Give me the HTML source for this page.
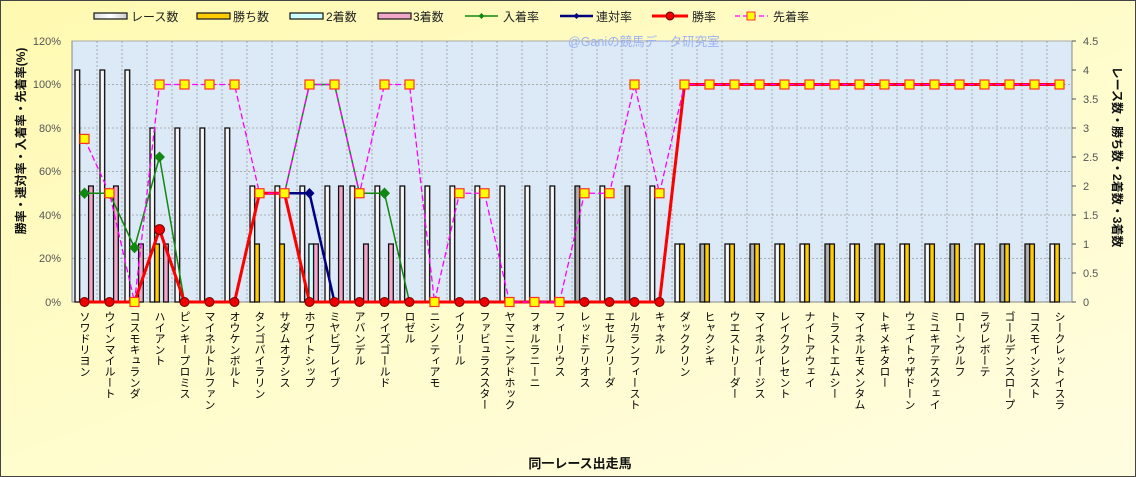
<!DOCTYPE html>
<html><head><meta charset="utf-8"><style>
body{margin:0;}
#c{position:relative;width:1136px;height:477px;overflow:hidden;font-family:"Liberation Sans","Noto Sans CJK JP",sans-serif;background:linear-gradient(160deg,#fff9b0 0%,#fffccc 50%,#fffde0 100%);box-sizing:border-box;border:1px solid #444;}
.lb{position:absolute;top:310px;writing-mode:vertical-rl;font-size:11px;line-height:12px;color:#000;white-space:nowrap;}
</style></head><body><div id="c">
<svg width="1136" height="477" style="position:absolute;left:-1px;top:-1px" font-family="Liberation Sans, Noto Sans CJK JP, sans-serif">
<defs>
<linearGradient id="gw" x1="0" x2="1"><stop offset="0" stop-color="#ddd"/><stop offset=".5" stop-color="#fff"/><stop offset="1" stop-color="#ccc"/></linearGradient>
<linearGradient id="gg" x1="0" x2="1"><stop offset="0" stop-color="#777"/><stop offset=".5" stop-color="#bbb"/><stop offset="1" stop-color="#888"/></linearGradient>
</defs>
<g font-size="12" fill="#222">
<rect x="94" y="13" width="33" height="6" fill="url(#gw)" stroke="#222" stroke-width="1.3"/><text x="131" y="21">レース数</text>
<rect x="197" y="13" width="33" height="6" fill="#ffcc00" stroke="#222" stroke-width="1.3"/><text x="233" y="21">勝ち数</text>
<rect x="290" y="13" width="33" height="6" fill="#ccffff" stroke="#222" stroke-width="1.3"/><text x="326" y="21">2着数</text>
<rect x="378" y="13" width="33" height="6" fill="#f4a6c8" stroke="#222" stroke-width="1.3"/><text x="413" y="21">3着数</text>
<line x1="465" y1="16" x2="498" y2="16" stroke="#118811" stroke-width="1.5"/><path d="M481.5 13l3 3-3 3-3-3z" fill="#118811"/><text x="503" y="21">入着率</text>
<line x1="560" y1="16" x2="593" y2="16" stroke="#000080" stroke-width="2.5"/><path d="M576.5 13l3 3-3 3-3-3z" fill="#000080"/><text x="596" y="21">連対率</text>
<line x1="652" y1="16" x2="688" y2="16" stroke="#ff0000" stroke-width="3"/><circle cx="670" cy="16" r="4" fill="#e00" stroke="#600"/><text x="692" y="21">勝率</text>
<line x1="735" y1="16" x2="768" y2="16" stroke="#ff00ff" stroke-width="1.3" stroke-dasharray="5,3"/><rect x="747" y="12" width="8" height="8" fill="#ff0" stroke="#f33"/><text x="773" y="21">先着率</text>
</g>
<rect x="72" y="41" width="1000" height="261" fill="#dce9f7" stroke="#aaa"/>
<g stroke="#999" stroke-width="0.8" stroke-dasharray="2,2">
<line x1="72" y1="258.5" x2="1072" y2="258.5"/><line x1="72" y1="215" x2="1072" y2="215"/><line x1="72" y1="171.5" x2="1072" y2="171.5"/><line x1="72" y1="128" x2="1072" y2="128"/><line x1="72" y1="84.5" x2="1072" y2="84.5"/>
<path d="M97 41v261M122 41v261M147 41v261M172 41v261M197 41v261M222 41v261M247 41v261M272 41v261M297 41v261M322 41v261M347 41v261M372 41v261M397 41v261M422 41v261M447 41v261M472 41v261M497 41v261M522 41v261M547 41v261M572 41v261M597 41v261M622 41v261M647 41v261M672 41v261M697 41v261M722 41v261M747 41v261M772 41v261M797 41v261M822 41v261M847 41v261M872 41v261M897 41v261M922 41v261M947 41v261M972 41v261M997 41v261M1022 41v261M1047 41v261"/>
</g>
<text x="568" y="46" font-size="12.5" fill="#9bb2f2">@Ganiの競馬データ研究室</text>
<line x1="72" y1="41" x2="72" y2="302" stroke="#888"/>
<line x1="1072" y1="41" x2="1072" y2="302" stroke="#888"/>
<line x1="72" y1="302" x2="1072" y2="302" stroke="#888"/>
<path d="M1072 41h4M1072 70h4M1072 99h4M1072 128h4M1072 157h4M1072 186h4M1072 215h4M1072 244h4M1072 273h4M1072 302h4" stroke="#555"/>
<g font-size="11" fill="#555" text-anchor="end">
<text x="61" y="306">0%</text><text x="61" y="262">20%</text><text x="61" y="219">40%</text><text x="61" y="175">60%</text><text x="61" y="132">80%</text><text x="61" y="88">100%</text><text x="61" y="45">120%</text>
</g>
<g font-size="11" fill="#555">
<text x="1083" y="306">0</text><text x="1083" y="277">0.5</text><text x="1083" y="248">1</text><text x="1083" y="219">1.5</text><text x="1083" y="190">2</text><text x="1083" y="161">2.5</text><text x="1083" y="132">3</text><text x="1083" y="103">3.5</text><text x="1083" y="74">4</text><text x="1083" y="45">4.5</text>
</g>
<text transform="translate(25,141) rotate(-90)" text-anchor="middle" font-size="12" font-weight="bold" fill="#111">勝率・連対率・入着率・先着率(%)</text>
<text transform="translate(1113,157) rotate(90)" text-anchor="middle" font-size="12" font-weight="bold" fill="#111">レース数・勝ち数・2着数・3着数</text>
<text x="580" y="468" text-anchor="middle" font-size="13" font-weight="bold" fill="#111">同一レース出走馬</text>
<g stroke="#111" stroke-width="1.3">
<g fill="url(#gw)">
<rect x="75" y="70" width="4.7" height="232"/><rect x="100" y="70" width="4.7" height="232"/><rect x="125" y="70" width="4.7" height="232"/>
<rect x="150" y="128" width="4.7" height="174"/><rect x="175" y="128" width="4.7" height="174"/><rect x="200" y="128" width="4.7" height="174"/><rect x="225" y="128" width="4.7" height="174"/>
<rect x="250" y="186" width="4.7" height="116"/><rect x="275" y="186" width="4.7" height="116"/><rect x="300" y="186" width="4.7" height="116"/><rect x="325" y="186" width="4.7" height="116"/><rect x="350" y="186" width="4.7" height="116"/><rect x="375" y="186" width="4.7" height="116"/><rect x="400" y="186" width="4.7" height="116"/><rect x="425" y="186" width="4.7" height="116"/><rect x="450" y="186" width="4.7" height="116"/><rect x="475" y="186" width="4.7" height="116"/><rect x="500" y="186" width="4.7" height="116"/><rect x="525" y="186" width="4.7" height="116"/><rect x="550" y="186" width="4.7" height="116"/><rect x="600" y="186" width="4.7" height="116"/><rect x="650" y="186" width="4.7" height="116"/>
<rect x="675" y="244" width="4.7" height="58"/><rect x="725" y="244" width="4.7" height="58"/><rect x="775" y="244" width="4.7" height="58"/><rect x="800" y="244" width="4.7" height="58"/><rect x="850" y="244" width="4.7" height="58"/><rect x="900" y="244" width="4.7" height="58"/><rect x="925" y="244" width="4.7" height="58"/><rect x="975" y="244" width="4.7" height="58"/><rect x="1050" y="244" width="4.7" height="58"/>
</g>
<g fill="url(#gg)">
<rect x="575" y="186" width="4.7" height="116"/><rect x="625" y="186" width="4.7" height="116"/>
<rect x="700" y="244" width="4.7" height="58"/><rect x="750" y="244" width="4.7" height="58"/><rect x="825" y="244" width="4.7" height="58"/><rect x="875" y="244" width="4.7" height="58"/><rect x="950" y="244" width="4.7" height="58"/><rect x="1000" y="244" width="4.7" height="58"/><rect x="1025" y="244" width="4.7" height="58"/>
</g>
<g fill="#ffcc00">
<rect x="154.7" y="244" width="4.7" height="58"/><rect x="254.7" y="244" width="4.7" height="58"/><rect x="279.7" y="244" width="4.7" height="58"/>
<rect x="679.7" y="244" width="4.7" height="58"/><rect x="704.7" y="244" width="4.7" height="58"/><rect x="729.7" y="244" width="4.7" height="58"/><rect x="754.7" y="244" width="4.7" height="58"/><rect x="779.7" y="244" width="4.7" height="58"/><rect x="804.7" y="244" width="4.7" height="58"/><rect x="829.7" y="244" width="4.7" height="58"/><rect x="854.7" y="244" width="4.7" height="58"/><rect x="879.7" y="244" width="4.7" height="58"/><rect x="904.7" y="244" width="4.7" height="58"/><rect x="929.7" y="244" width="4.7" height="58"/><rect x="954.7" y="244" width="4.7" height="58"/><rect x="979.7" y="244" width="4.7" height="58"/><rect x="1004.7" y="244" width="4.7" height="58"/><rect x="1029.7" y="244" width="4.7" height="58"/><rect x="1054.7" y="244" width="4.7" height="58"/>
</g>
<rect x="308.9" y="244" width="4.7" height="58" fill="#ccffff"/>
<g fill="#f4a6c8">
<rect x="88.6" y="186" width="4.7" height="116"/><rect x="113.6" y="186" width="4.7" height="116"/><rect x="138.6" y="244" width="4.7" height="58"/><rect x="163.6" y="244" width="4.7" height="58"/><rect x="313.6" y="244" width="4.7" height="58"/><rect x="338.6" y="186" width="4.7" height="116"/><rect x="363.6" y="244" width="4.7" height="58"/><rect x="388.6" y="244" width="4.7" height="58"/>
</g>
</g>
<polyline fill="none" stroke="#118811" stroke-width="1.5" points="84.5,193.25 109.5,193.25 134.5,247.6 159.5,157 184.5,302 209.5,302 234.5,302 259.5,193.25 284.5,193.25 309.5,84.5 334.5,84.5 359.5,193.25 384.5,193.25 409.5,302 659.5,302 684.5,84.5 1059.5,84.5"/>
<g fill="#118811">
<path d="M84.5 187.5l5.5 5.75-5.5 5.75-5.5-5.75z"/><path d="M109.5 187.5l5.5 5.75-5.5 5.75-5.5-5.75z"/><path d="M134.5 242l5.5 5.6-5.5 5.6-5.5-5.6z"/><path d="M159.5 151.5l5.5 5.5-5.5 5.5-5.5-5.5z"/><path d="M384.5 187.5l5.5 5.75-5.5 5.75-5.5-5.75z"/>
</g>
<polyline fill="none" stroke="#000080" stroke-width="2.5" points="84.5,302 134.5,302 159.5,229.6 184.5,302 234.5,302 259.5,193.25 309.5,193.25 334.5,302 659.5,302 684.5,84.5 1059.5,84.5"/>
<path d="M309.5 188l5 5.25-5 5.25-5-5.25z" fill="#000080"/>
<polyline fill="none" stroke="#ff0000" stroke-width="3" points="84.5,302 134.5,302 159.5,229.6 184.5,302 234.5,302 259.5,193.25 284.5,193.25 309.5,302 659.5,302 684.5,84.5 1059.5,84.5"/>
<g fill="#ee0000" stroke="#700" stroke-width="1">
<circle cx="84.5" cy="302" r="4.5"/><circle cx="109.5" cy="302" r="4.5"/><circle cx="159.5" cy="229.6" r="5"/><circle cx="184.5" cy="302" r="4.5"/><circle cx="209.5" cy="302" r="4.5"/><circle cx="234.5" cy="302" r="4.5"/><circle cx="309.5" cy="302" r="4.5"/><circle cx="334.5" cy="302" r="4.5"/><circle cx="359.5" cy="302" r="4.5"/><circle cx="384.5" cy="302" r="4.5"/><circle cx="409.5" cy="302" r="4.5"/><circle cx="459.5" cy="302" r="4.5"/><circle cx="484.5" cy="302" r="4.5"/><circle cx="584.5" cy="302" r="4.5"/><circle cx="609.5" cy="302" r="4.5"/><circle cx="634.5" cy="302" r="4.5"/><circle cx="659.5" cy="302" r="4.5"/>
</g>
<polyline fill="none" stroke="#ff00ff" stroke-width="1.3" stroke-dasharray="6,3" points="84.5,138.9 109.5,193.25 134.5,302 159.5,84.5 234.5,84.5 259.5,193.25 284.5,193.25 309.5,84.5 334.5,84.5 359.5,193.25 384.5,84.5 409.5,84.5 434.5,302 459.5,193.25 484.5,193.25 509.5,302 559.5,302 584.5,193.25 609.5,193.25 634.5,84.5 659.5,193.25 684.5,84.5 1059.5,84.5"/>
<g fill="#ffff00" stroke="#ff3322" stroke-width="1.2">
<rect x="80" y="134.4" width="9" height="9"/><rect x="105" y="188.75" width="9" height="9"/><rect x="130" y="297.5" width="9" height="9"/><rect x="155" y="80" width="9" height="9"/><rect x="180" y="80" width="9" height="9"/><rect x="205" y="80" width="9" height="9"/><rect x="230" y="80" width="9" height="9"/><rect x="255" y="188.75" width="9" height="9"/><rect x="280" y="188.75" width="9" height="9"/><rect x="305" y="80" width="9" height="9"/><rect x="330" y="80" width="9" height="9"/><rect x="355" y="188.75" width="9" height="9"/><rect x="380" y="80" width="9" height="9"/><rect x="405" y="80" width="9" height="9"/><rect x="430" y="297.5" width="9" height="9"/><rect x="455" y="188.75" width="9" height="9"/><rect x="480" y="188.75" width="9" height="9"/><rect x="505" y="297.5" width="9" height="9"/><rect x="530" y="297.5" width="9" height="9"/><rect x="555" y="297.5" width="9" height="9"/><rect x="580" y="188.75" width="9" height="9"/><rect x="605" y="188.75" width="9" height="9"/><rect x="630" y="80" width="9" height="9"/><rect x="655" y="188.75" width="9" height="9"/>
<rect x="680" y="80" width="9" height="9"/><rect x="705" y="80" width="9" height="9"/><rect x="730" y="80" width="9" height="9"/><rect x="755" y="80" width="9" height="9"/><rect x="780" y="80" width="9" height="9"/><rect x="805" y="80" width="9" height="9"/><rect x="830" y="80" width="9" height="9"/><rect x="855" y="80" width="9" height="9"/><rect x="880" y="80" width="9" height="9"/><rect x="905" y="80" width="9" height="9"/><rect x="930" y="80" width="9" height="9"/><rect x="955" y="80" width="9" height="9"/><rect x="980" y="80" width="9" height="9"/><rect x="1005" y="80" width="9" height="9"/><rect x="1030" y="80" width="9" height="9"/><rect x="1055" y="80" width="9" height="9"/>
</g>
</svg>
<div class="lb" style="left:77px">ソワドリヨン</div>
<div class="lb" style="left:102px">ウインマイルート</div>
<div class="lb" style="left:127px">コスモキュランダ</div>
<div class="lb" style="left:152px">ハイアント</div>
<div class="lb" style="left:177px">ピンキープロミス</div>
<div class="lb" style="left:202px">マイネルトルファン</div>
<div class="lb" style="left:227px">オウケンボルト</div>
<div class="lb" style="left:252px">タンゴバイラリン</div>
<div class="lb" style="left:277px">サダムオプシス</div>
<div class="lb" style="left:302px">ホワイトシップ</div>
<div class="lb" style="left:327px">ミヤビブレイブ</div>
<div class="lb" style="left:352px">アバンデル</div>
<div class="lb" style="left:377px">ワイズゴールド</div>
<div class="lb" style="left:402px">ロゼル</div>
<div class="lb" style="left:427px">ニシノティアモ</div>
<div class="lb" style="left:452px">イクリール</div>
<div class="lb" style="left:477px">ファビュラススター</div>
<div class="lb" style="left:502px">ヤマニンアドホック</div>
<div class="lb" style="left:527px">フォルラニーニ</div>
<div class="lb" style="left:552px">フィーリウス</div>
<div class="lb" style="left:577px">レッドテリオス</div>
<div class="lb" style="left:602px">エセルフリーダ</div>
<div class="lb" style="left:627px">ルカランフィースト</div>
<div class="lb" style="left:652px">キャネル</div>
<div class="lb" style="left:677px">ダッククリン</div>
<div class="lb" style="left:702px">ヒャクシキ</div>
<div class="lb" style="left:727px">ウエストリーダー</div>
<div class="lb" style="left:752px">マイネルイージス</div>
<div class="lb" style="left:777px">レイククレセント</div>
<div class="lb" style="left:802px">ナイトアウェイ</div>
<div class="lb" style="left:827px">トラストエムシー</div>
<div class="lb" style="left:852px">マイネルモメンタム</div>
<div class="lb" style="left:877px">トキメキタロー</div>
<div class="lb" style="left:902px">ウェイトゥザドーン</div>
<div class="lb" style="left:927px">ミユキアテスウェイ</div>
<div class="lb" style="left:952px">ローンウルフ</div>
<div class="lb" style="left:977px">ラヴレボーテ</div>
<div class="lb" style="left:1002px">ゴールデンスロープ</div>
<div class="lb" style="left:1027px">コスモインシスト</div>
<div class="lb" style="left:1052px">シークレットイスラ</div>
</div></body></html>
